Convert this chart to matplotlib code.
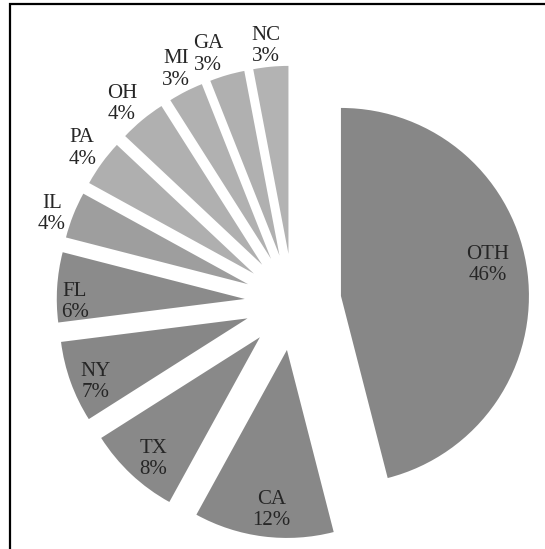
import matplotlib.pyplot as plt
import numpy as np
from matplotlib.patches import Rectangle

plt.rcParams['font.family'] = ['Liberation Serif', 'DejaVu Serif']

# State shares (percent)
states = ["OTH", "CA", "TX", "NY", "FL", "IL", "PA", "OH", "MI", "GA", "NC"]
shares = [46, 12, 8, 7, 6, 4, 4, 4, 3, 3, 3]
colors = ["#878787", "#888888", "#898989", "#878787", "#8b8b8b",
          "#9e9e9e", "#afafaf", "#b0b0b0", "#b1b1b1", "#b0b0b0", "#b3b3b3"]

# label placement: distance from the wedge centre (in radii) and a small
# angular nudge (deg) away from the wedge's mid-angle
label_dist = [0.80, 0.855, 0.86, 0.877, 0.903, 1.108, 1.129, 1.135, 1.129, 1.137, 1.112]
label_nudge = [4.7, 1.7, 2.1, 2.9, 4.6, 1.9, 0.0, 1.5, -0.4, 3.3, 0.7]

fig = plt.figure(figsize=(5.45, 5.49), dpi=100)
ax = fig.add_axes([0, 0, 1, 1])

wedges, _ = ax.pie(shares, explode=[0.257] * len(shares), startangle=90,
                   counterclock=False, colors=colors, radius=1,
                   wedgeprops=dict(linewidth=0))

for w, name, pct, dist, nudge in zip(wedges, states, shares, label_dist, label_nudge):
    ang = np.deg2rad((w.theta1 + w.theta2) / 2 + nudge)
    cx, cy = w.center
    ax.text(cx + dist * np.cos(ang), cy + dist * np.sin(ang), f"{name}\n{pct}%",
            ha="center", va="center", fontsize=15, color="#262626",
            linespacing=1.2)

# pie centre at (293, 302) px, 188 px per unit radius
R = 188
ax.set_aspect("auto")
ax.set_xlim(-293 / R, (545 - 293) / R)
ax.set_ylim((302 - 549) / R, 302 / R)
ax.axis("off")

fig.add_artist(Rectangle((10 / 545, -0.02), 1.0, 1.0 - 4 / 549 + 0.02,
                         transform=fig.transFigure, fill=False,
                         edgecolor="black", linewidth=1.6))

fig.savefig("out.png", dpi=100)
